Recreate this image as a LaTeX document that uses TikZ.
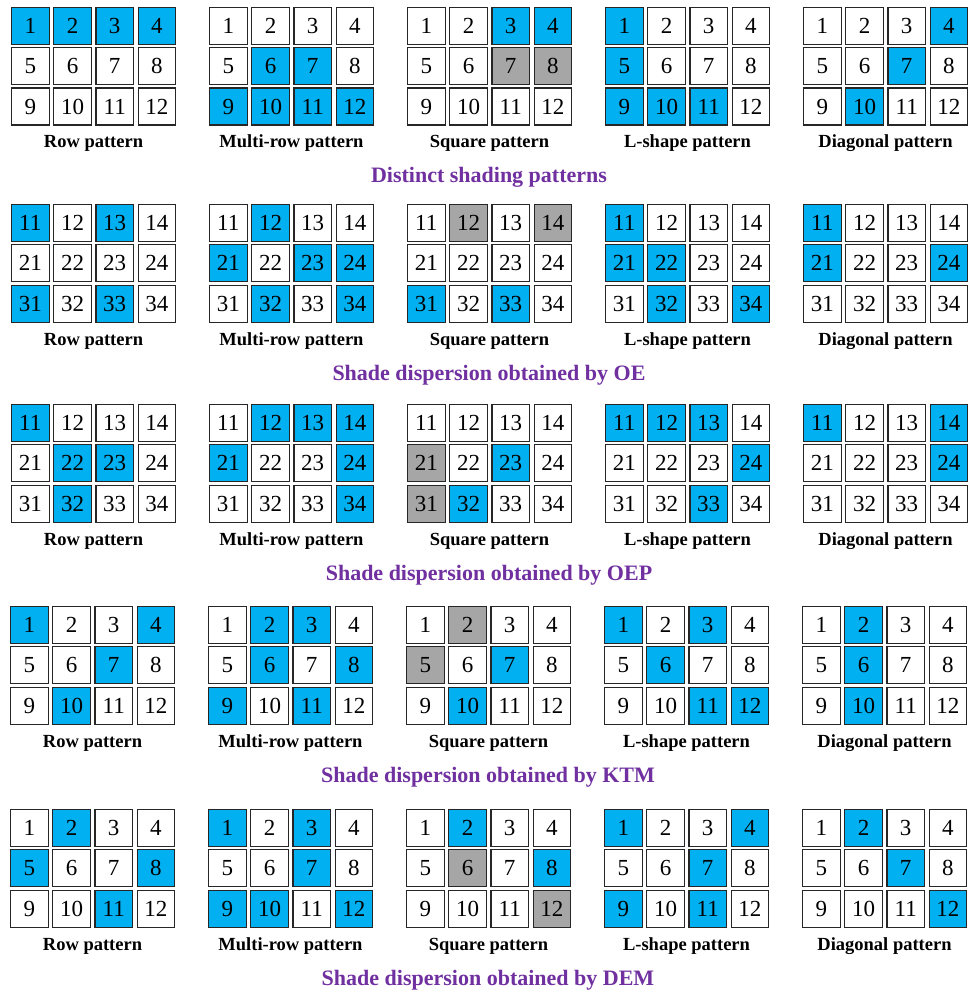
\documentclass[tikz,border=0pt]{standalone}
\usepackage{fontspec}
\setmainfont{Liberation Serif}
\definecolor{cB}{HTML}{00B0F0}
\definecolor{cG}{HTML}{A6A6A6}
\definecolor{cW}{HTML}{FFFFFF}
\definecolor{ttl}{HTML}{7030A0}
\tikzset{
  cellbox/.style={draw=black!85, line width=1.2pt, minimum width=37.6pt, minimum height=37pt, inner sep=0pt, font=\fontsize{23}{23}\selectfont},
  captxt/.style={font=\bfseries\fontsize{18.5}{20}\selectfont, anchor=base, inner sep=0pt},
  ttltxt/.style={font=\bfseries\fontsize{22}{24}\selectfont, text=ttl, anchor=base, inner sep=0pt}
}
\newcommand\mygrid[6]{%
  \foreach \f [count=\k from 0] in {#5} {
    \pgfmathtruncatemacro\rr{int(\k/4)}
    \pgfmathtruncatemacro\cc{mod(\k,4)}
    \ifnum#4=1 \pgfmathtruncatemacro\nn{\k+1}\else\pgfmathtruncatemacro\nn{(\rr+1)*10+\cc+1}\fi
    \node[cellbox, fill=\f] (#3-\k) at ({#1+19.3+\cc*42.2},{#2+19+\rr*40.3}) {\nn};
  }
  \node[captxt] (#3-cap) at ({#1+82.5},{#2+141}) {#6};
}
\begin{document}
\begin{tikzpicture}[x=1pt,y=-1pt]
\useasboundingbox[fill=white] (0,0) rectangle (972,992);
% Row 1
\mygrid{11}{7}{g11}{1}{cB,cB,cB,cB,cW,cW,cW,cW,cW,cW,cW,cW}{Row pattern}
\mygrid{209}{7}{g12}{1}{cW,cW,cW,cW,cW,cB,cB,cW,cB,cB,cB,cB}{Multi-row pattern}
\mygrid{407}{7}{g13}{1}{cW,cW,cB,cB,cW,cW,cG,cG,cW,cW,cW,cW}{Square pattern}
\mygrid{605}{7}{g14}{1}{cB,cW,cW,cW,cB,cW,cW,cW,cB,cB,cB,cW}{L-shape pattern}
\mygrid{803}{7}{g15}{1}{cW,cW,cW,cB,cW,cW,cB,cW,cW,cB,cW,cW}{Diagonal pattern}
\node[ttltxt] (t1) at (489,183) {Distinct shading patterns};
% Row 2
\mygrid{11}{204}{g21}{2}{cB,cW,cB,cW,cW,cW,cW,cW,cB,cW,cB,cW}{Row pattern}
\mygrid{209}{204}{g22}{2}{cW,cB,cW,cW,cB,cW,cB,cB,cW,cB,cW,cB}{Multi-row pattern}
\mygrid{407}{204}{g23}{2}{cW,cG,cW,cG,cW,cW,cW,cW,cB,cW,cB,cW}{Square pattern}
\mygrid{605}{204}{g24}{2}{cB,cW,cW,cW,cB,cB,cW,cW,cW,cB,cW,cB}{L-shape pattern}
\mygrid{803}{204}{g25}{2}{cB,cW,cW,cW,cB,cW,cW,cB,cW,cW,cW,cW}{Diagonal pattern}
\node[ttltxt] (t2) at (489,380) {Shade dispersion obtained by OE};
% Row 3
\mygrid{11}{404}{g31}{2}{cB,cW,cW,cW,cW,cB,cB,cW,cW,cB,cW,cW}{Row pattern}
\mygrid{209}{404}{g32}{2}{cW,cB,cB,cB,cB,cW,cW,cB,cW,cW,cW,cB}{Multi-row pattern}
\mygrid{407}{404}{g33}{2}{cW,cW,cW,cW,cG,cW,cB,cW,cG,cB,cW,cW}{Square pattern}
\mygrid{605}{404}{g34}{2}{cB,cB,cB,cW,cW,cW,cW,cB,cW,cW,cB,cW}{L-shape pattern}
\mygrid{803}{404}{g35}{2}{cB,cW,cW,cB,cW,cW,cW,cB,cW,cW,cW,cW}{Diagonal pattern}
\node[ttltxt] (t3) at (489,580) {Shade dispersion obtained by OEP};
% Row 4
\mygrid{10}{606}{g41}{1}{cB,cW,cW,cB,cW,cW,cB,cW,cW,cB,cW,cW}{Row pattern}
\mygrid{208}{606}{g42}{1}{cW,cB,cB,cW,cW,cB,cW,cB,cB,cW,cB,cW}{Multi-row pattern}
\mygrid{406}{606}{g43}{1}{cW,cG,cW,cW,cG,cW,cB,cW,cW,cB,cW,cW}{Square pattern}
\mygrid{604}{606}{g44}{1}{cB,cW,cB,cW,cW,cB,cW,cW,cW,cW,cB,cB}{L-shape pattern}
\mygrid{802}{606}{g45}{1}{cW,cB,cW,cW,cW,cB,cW,cW,cW,cB,cW,cW}{Diagonal pattern}
\node[ttltxt] (t4) at (488,782) {Shade dispersion obtained by KTM};
% Row 5
\mygrid{10}{809}{g51}{1}{cW,cB,cW,cW,cB,cW,cW,cB,cW,cW,cB,cW}{Row pattern}
\mygrid{208}{809}{g52}{1}{cB,cW,cB,cW,cW,cW,cB,cW,cB,cB,cW,cB}{Multi-row pattern}
\mygrid{406}{809}{g53}{1}{cW,cB,cW,cW,cW,cG,cW,cB,cW,cW,cW,cG}{Square pattern}
\mygrid{604}{809}{g54}{1}{cB,cW,cW,cB,cW,cW,cB,cW,cB,cW,cB,cW}{L-shape pattern}
\mygrid{802}{809}{g55}{1}{cW,cB,cW,cW,cW,cW,cB,cW,cW,cW,cW,cB}{Diagonal pattern}
\node[ttltxt] (t5) at (488,985) {Shade dispersion obtained by DEM};
\end{tikzpicture}
\end{document}
